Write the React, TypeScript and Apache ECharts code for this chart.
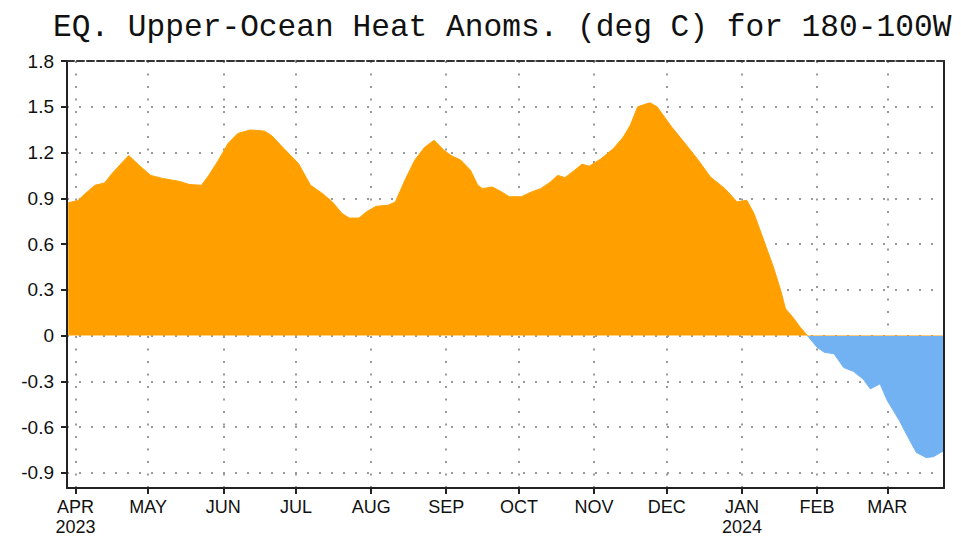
import React, { useEffect, useRef } from "react";
import * as echarts from "echarts";

const titleText = "EQ. Upper-Ocean Heat Anoms. (deg C) for 180-100W";

const dates = [
  "2023-03-29", "2023-04-02", "2023-04-05", "2023-04-09", "2023-04-13", "2023-04-16",
  "2023-04-20", "2023-04-23", "2023-04-27", "2023-05-02", "2023-05-07", "2023-05-14",
  "2023-05-18", "2023-05-23", "2023-05-26", "2023-05-30", "2023-06-03", "2023-06-07",
  "2023-06-12", "2023-06-15", "2023-06-18", "2023-06-21", "2023-06-26", "2023-07-02",
  "2023-07-07", "2023-07-12", "2023-07-16", "2023-07-20", "2023-07-23", "2023-07-27",
  "2023-07-30", "2023-08-03", "2023-08-08", "2023-08-11", "2023-08-15", "2023-08-19",
  "2023-08-23", "2023-08-27", "2023-08-31", "2023-09-03", "2023-09-07", "2023-09-11",
  "2023-09-14", "2023-09-16", "2023-09-20", "2023-09-24", "2023-09-27", "2023-10-02",
  "2023-10-06", "2023-10-10", "2023-10-14", "2023-10-17", "2023-10-20", "2023-10-24",
  "2023-10-27", "2023-10-30", "2023-11-04", "2023-11-09", "2023-11-13", "2023-11-16",
  "2023-11-19", "2023-11-24", "2023-11-27", "2023-12-03", "2023-12-08", "2023-12-14",
  "2023-12-19", "2023-12-25", "2023-12-30", "2024-01-03", "2024-01-06", "2024-01-10",
  "2024-01-14", "2024-01-17", "2024-01-19", "2024-01-22", "2024-01-25", "2024-01-28",
  "2024-02-01", "2024-02-04", "2024-02-08", "2024-02-12", "2024-02-16", "2024-02-20",
  "2024-02-23", "2024-02-27", "2024-03-01", "2024-03-06", "2024-03-10", "2024-03-13",
  "2024-03-17", "2024-03-20", "2024-03-23", "2024-03-24",
];

const values = [
  0.87, 0.885, 0.93, 0.985, 1.0, 1.06,
  1.13, 1.18, 1.12, 1.05, 1.03, 1.01,
  0.99, 0.985, 1.05, 1.15, 1.26, 1.325,
  1.347, 1.345, 1.34, 1.31, 1.226, 1.128,
  0.985, 0.93, 0.876, 0.8, 0.77, 0.77,
  0.81, 0.847, 0.854, 0.876, 1.02, 1.15,
  1.233, 1.28, 1.215, 1.18, 1.15, 1.084,
  0.985, 0.963, 0.974, 0.94, 0.91, 0.91,
  0.94, 0.963, 1.007, 1.05, 1.035, 1.084,
  1.123, 1.11, 1.16, 1.226, 1.3, 1.38,
  1.5, 1.526, 1.5, 1.368, 1.27, 1.15,
  1.04, 0.963, 0.876, 0.887, 0.8, 0.624,
  0.449, 0.296, 0.175, 0.12, 0.055, 0.0,
  -0.077, -0.11, -0.12, -0.21, -0.235, -0.285,
  -0.35, -0.317, -0.427, -0.558, -0.68, -0.767,
  -0.8, -0.795, -0.767, -0.76,
];

const monthTicks = [
  "2023-04-01", "2023-05-01", "2023-06-01", "2023-07-01", "2023-08-01", "2023-09-01",
  "2023-10-01", "2023-11-01", "2023-12-01", "2024-01-01", "2024-02-01", "2024-03-01",
];
const monthLabels = ["APR", "MAY", "JUN", "JUL", "AUG", "SEP", "OCT", "NOV", "DEC", "JAN", "FEB", "MAR"];
const yearLabels = ["2023", "", "", "", "", "", "", "", "", "2024", "", ""];

const yTicks = [-0.9, -0.6, -0.3, 0, 0.3, 0.6, 0.9, 1.2, 1.5, 1.8];
const yMin = -1.0;
const yMax = 1.8;
const baseDate = "2023-04-01";
const xMinDate = "2023-03-29";
const xMaxDate = "2024-03-24";

const ts = (s: string) => {
  const [y, m, d] = s.split("-").map(Number);
  return Date.UTC(y, m - 1, d);
};
const dayOf = (s: string) => Math.round((ts(s) - ts(baseDate)) / 86400000);

const LABEL_FONT = "'Liberation Sans', Arial, sans-serif";

export default function App() {
  const ref = useRef<HTMLDivElement>(null);

  useEffect(() => {
    if (!ref.current) return;
    const chart = echarts.init(ref.current, null, { renderer: "svg" });
    const tickDays = monthTicks.map(dayOf);
    const data = dates.map((d, i) => [dayOf(d), values[i]]);
    const xMin = dayOf(xMinDate) - 0.5;
    const xMax = dayOf(xMaxDate) + 0.4;

    const option: any = {
      animation: false,
      backgroundColor: "#ffffff",
      title: {
        text: titleText,
        left: 53,
        top: 12,
        padding: 0,
        textStyle: {
          fontFamily: "'Liberation Mono', 'DejaVu Sans Mono', monospace",
          fontSize: 31.2,
          fontWeight: "normal",
          color: "#111",
        },
      },
      grid: { left: 67, right: 17, top: 61, bottom: 51, outerBoundsMode: "none", containLabel: false },
      visualMap: {
        show: false,
        type: "piecewise",
        dimension: 1,
        seriesIndex: 0,
        pieces: [
          { gte: -10, lt: 0, color: "#72B2F3" },
          { gte: 0, lte: 10, color: "#FFA000" },
        ],
      },
      xAxis: [
        {
          type: "value",
          min: xMin,
          max: xMax,
          position: "bottom",
          axisLine: { onZero: false, lineStyle: { color: "#222", width: 2 } },
          axisTick: { show: true, length: 6, customValues: tickDays, lineStyle: { color: "#222", width: 2 } },
          axisLabel: {
            customValues: tickDays,
            margin: 9,
            fontFamily: LABEL_FONT,
            fontSize: 18,
            lineHeight: 20,
            color: "#111",
            formatter: (val: number) => {
              const idx = tickDays.indexOf(Math.round(val));
              if (idx < 0) return "";
              return yearLabels[idx] ? monthLabels[idx] + "\n" + yearLabels[idx] : monthLabels[idx];
            },
          },
          splitLine: {
            show: true,
            lineStyle: { color: "#9a9a9a", width: 2, type: [2, 10.5] },
          },
        },
        {
          type: "value",
          min: xMin,
          max: xMax,
          position: "top",
          axisLine: { show: true, onZero: false, lineStyle: { color: "#333", width: 2, type: [7, 3] } },
          axisTick: { show: false },
          axisLabel: { show: false },
          splitLine: { show: false },
        },
      ],
      yAxis: [
        {
          type: "value",
          min: yMin,
          max: yMax,
          position: "left",
          axisLine: { show: true, onZero: false, lineStyle: { color: "#222", width: 2 } },
          axisTick: { show: true, length: 6, customValues: yTicks, lineStyle: { color: "#222", width: 2 } },
          axisLabel: {
            customValues: yTicks,
            margin: 13,
            fontFamily: LABEL_FONT,
            fontSize: 19,
            color: "#111",
            formatter: (v: number) => (Math.abs(v) < 1e-9 ? "0" : v.toFixed(1)),
          },
          splitLine: {
            show: true,
            lineStyle: { color: "#9a9a9a", width: 2, type: [2, 10] },
          },
        },
        {
          type: "value",
          min: yMin,
          max: yMax,
          position: "right",
          axisLine: { show: true, onZero: false, lineStyle: { color: "#222", width: 2 } },
          axisTick: { show: false },
          axisLabel: { show: false },
          splitLine: { show: false },
        },
      ],
      series: [
        {
          type: "line",
          xAxisIndex: 0,
          yAxisIndex: 0,
          data,
          symbol: "none",
          lineStyle: { width: 1 },
          areaStyle: { opacity: 1, origin: 0 },
          z: 2,
        },
      ],
    };
    chart.setOption(option);
    return () => chart.dispose();
  }, []);

  return (
    <div
      ref={ref}
      style={{ position: "fixed", left: 0, top: 0, width: 961, height: 539, background: "#fff" }}
    />
  );
}
